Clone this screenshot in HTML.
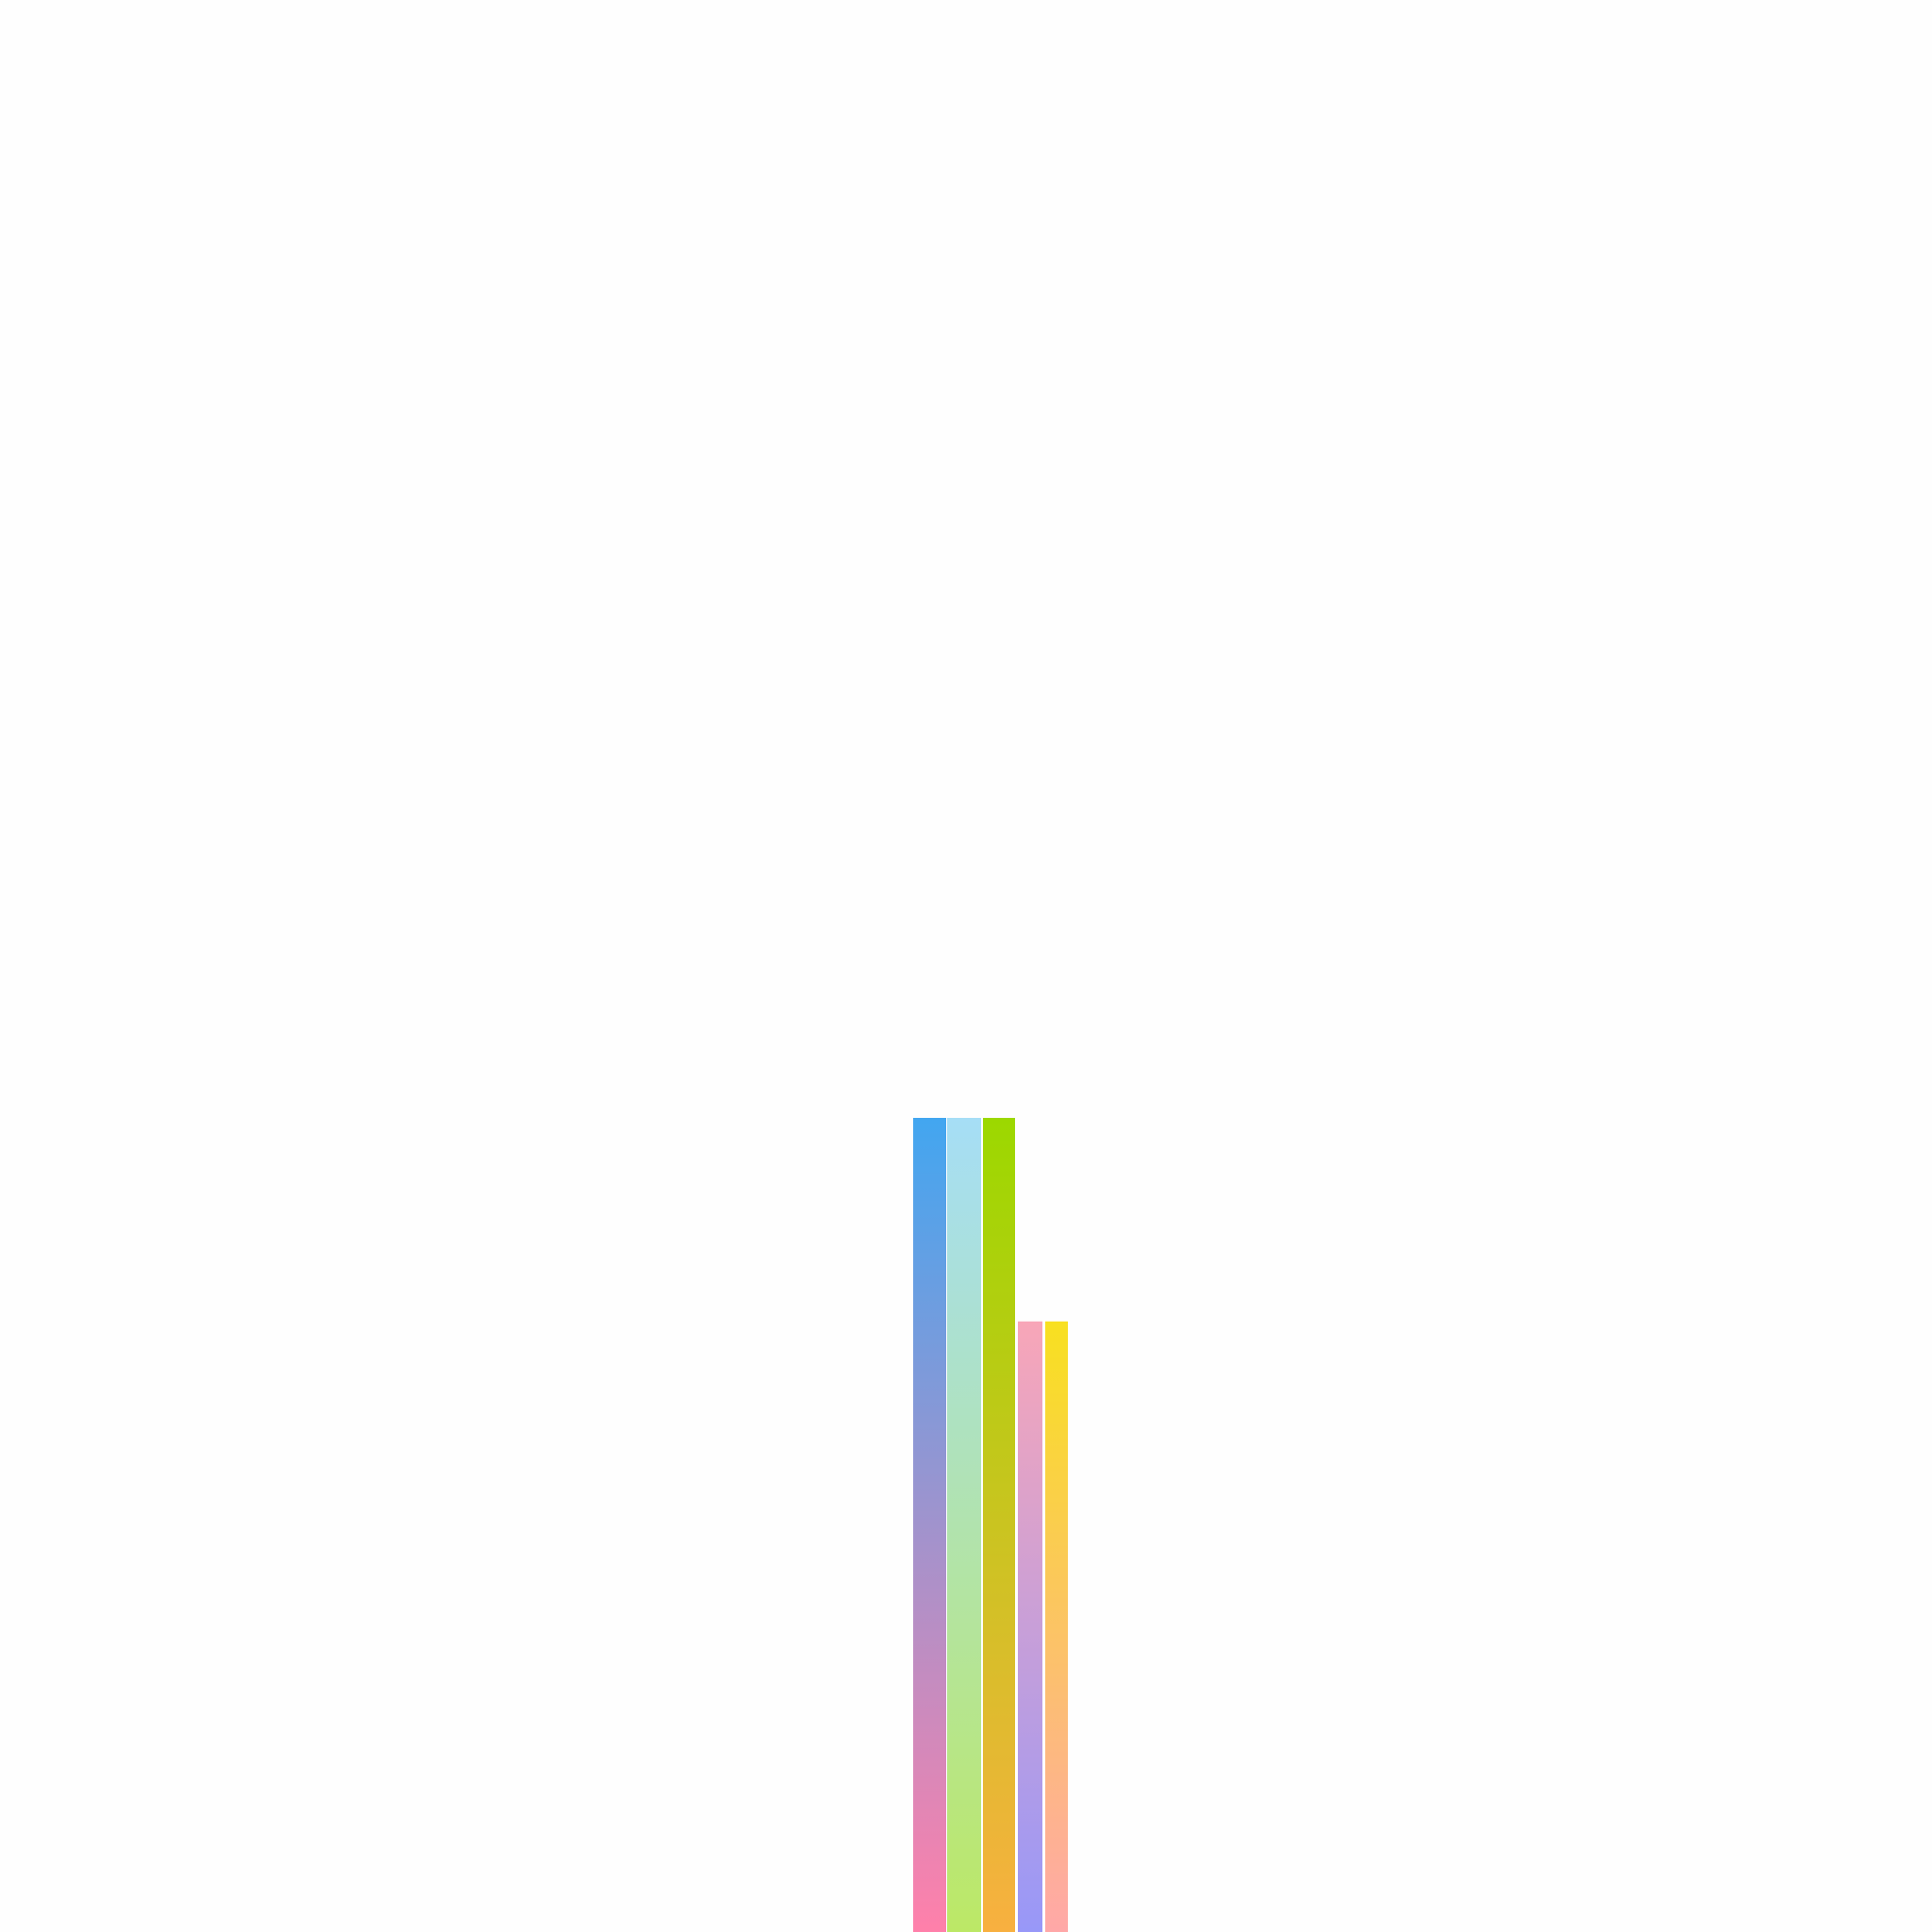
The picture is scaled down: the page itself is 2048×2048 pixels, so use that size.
<!DOCTYPE html>
<html><head><meta charset="utf-8"><style>html,body{margin:0;padding:0;background:#fefefe;width:2048px;height:2048px;overflow:hidden}</style></head>
<body>
<svg id="chart" width="2048" height="2048" xmlns="http://www.w3.org/2000/svg">
<defs>
<linearGradient id="g0" x1="0" y1="0" x2="0" y2="1"><stop offset="0" stop-color="#42a6f0"/><stop offset="1" stop-color="#ff80aa"/></linearGradient>
<linearGradient id="g1" x1="0" y1="0" x2="0" y2="1"><stop offset="0" stop-color="#a6def6"/><stop offset="1" stop-color="#bce866"/></linearGradient>
<linearGradient id="g2" x1="0" y1="0" x2="0" y2="1"><stop offset="0" stop-color="#9cd800"/><stop offset="1" stop-color="#f8b040"/></linearGradient>
<linearGradient id="g3" x1="0" y1="0" x2="0" y2="1"><stop offset="0" stop-color="#f8a6b8"/><stop offset="1" stop-color="#9898f8"/></linearGradient>
<linearGradient id="g4" x1="0" y1="0" x2="0" y2="1"><stop offset="0" stop-color="#f8e020"/><stop offset="1" stop-color="#ffa8a8"/></linearGradient>
</defs>
<g id="bars"></g>
</svg>
<script>
const categories = ["A","B","C","D","E"];
const values = [100,100,100,75,75];
const barLefts = [968,1004,1042,1079,1108];
const barWidths = [35,36,34,26,24];
function y(v){ return 2048 - v/100*863; }
const g = document.getElementById('bars');
categories.forEach((c,i)=>{
  const r = document.createElementNS('http://www.w3.org/2000/svg','rect');
  r.setAttribute('x', barLefts[i]);
  r.setAttribute('width', barWidths[i]);
  r.setAttribute('y', y(values[i]));
  r.setAttribute('height', 2048 - y(values[i]));
  r.setAttribute('fill', 'url(#g'+i+')');
  
  
  g.appendChild(r);
});
</script>
</body></html>
